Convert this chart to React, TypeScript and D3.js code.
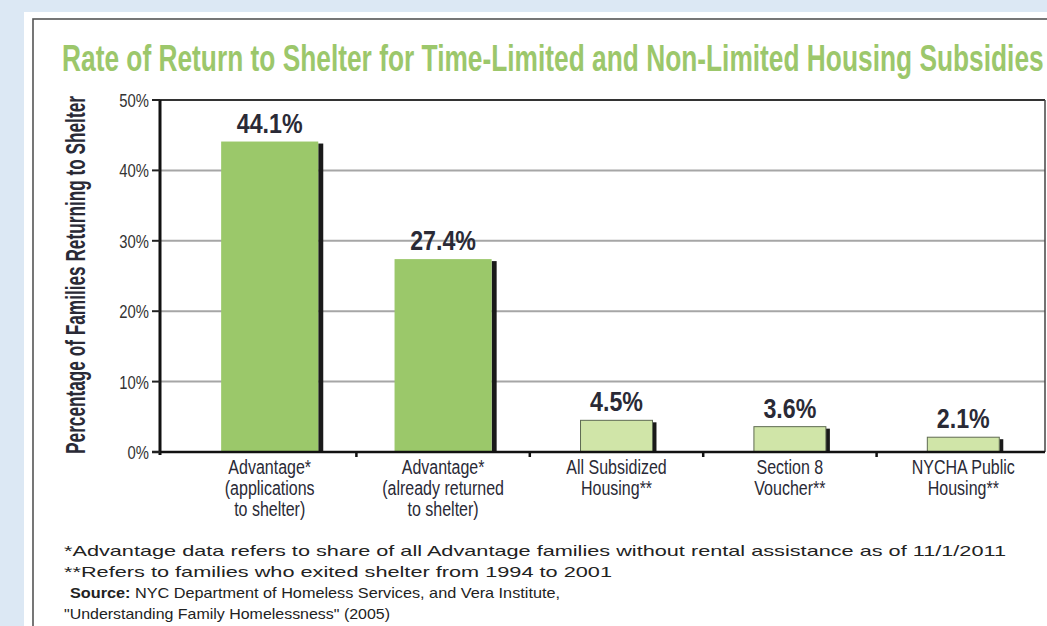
import { useLayoutEffect, useRef, useState } from 'react';
import * as d3 from 'd3';

const title = 'Rate of Return to Shelter for Time-Limited and Non-Limited Housing Subsidies';
const yTitle = 'Percentage of Families Returning to Shelter';

const categories = ['adv-app', 'adv-ret', 'all-sub', 'sec8', 'nycha'];
const categoryLabels = [
  ['Advantage*', '(applications', 'to shelter)'],
  ['Advantage*', '(already returned', 'to shelter)'],
  ['All Subsidized', 'Housing**'],
  ['Section 8', 'Voucher**'],
  ['NYCHA Public', 'Housing**'],
];
const subsidyKind = ['time-limited', 'time-limited', 'non-limited', 'non-limited', 'non-limited'];
const returnRates = [44.1, 27.4, 4.5, 3.6, 2.1];
const yTicks = [0, 10, 20, 30, 40, 50];

const footnotes = [
  '*Advantage data refers to share of all Advantage families without rental assistance as of 11/1/2011',
  '**Refers to families who exited shelter from 1994 to 2001',
];
const sourceLabel = 'Source:';
const sourceText = ' NYC Department of Homeless Services, and Vera Institute,';
const sourceText2 = '"Understanding Family Homelessness" (2005)';

const W = 1047;
const H = 626;
const SANS = '"Liberation Sans", Arial, sans-serif';
const INK = '#2a2a36';

// condensed look: no narrow face installed, so squeeze a regular one
function Narrow({
  x,
  y,
  sx,
  children,
  anchor = 'start',
  size,
  weight = 'normal',
  fill = INK,
}: {
  x: number;
  y: number;
  sx: number;
  children: React.ReactNode;
  anchor?: string;
  size: number;
  weight?: string;
  fill?: string;
}) {
  return (
    <text
      transform={`translate(${x},${y}) scale(${sx},1)`}
      textAnchor={anchor}
      fontFamily={SANS}
      fontSize={size}
      fontWeight={weight}
      fill={fill}
    >
      {children}
    </text>
  );
}

/** Squeezes a text to a given width (measured after mount). */
function FitText({
  width,
  place,
  anchor = 'start',
  size,
  weight = 'normal',
  fill = INK,
  children,
}: {
  width: number;
  place: string;
  anchor?: string;
  size: number;
  weight?: string;
  fill?: string;
  children: React.ReactNode;
}) {
  const ref = useRef<SVGTextElement>(null);
  const [sx, setSx] = useState(1);
  useLayoutEffect(() => {
    if (!ref.current) return;
    const len = ref.current.getComputedTextLength();
    if (len > 0) setSx(width / len);
  }, [width, children]);
  return (
    <text
      ref={ref}
      transform={`${place} scale(${sx},1)`}
      textAnchor={anchor}
      fontFamily={SANS}
      fontSize={size}
      fontWeight={weight}
      fill={fill}
    >
      {children}
    </text>
  );
}

export default function App() {
  const plot = { left: 160, right: 1045, top: 100, bottom: 452 };
  const y = d3.scaleLinear().domain([0, 50]).range([plot.bottom, plot.top]);
  const x = d3.scaleBand<string>().domain(categories).range([183, 1050]).padding(0);
  const bw = x.bandwidth();

  return (
    <svg
      width={W}
      height={H}
      viewBox={`0 0 ${W} ${H}`}
      style={{ position: 'absolute', left: 0, top: 0 }}
    >
      <rect x={0} y={0} width={W} height={H} fill="#dce8f4" />
      <rect x={24} y={12} width={W} height={H} fill="#ffffff" />
      <rect x={33} y={19} width={W + 10} height={H} fill="none" stroke="#555" strokeWidth={1.6} />

      <FitText width={982} place="translate(62,71)" size={37} weight="bold" fill="#9cc76b">
        {title}
      </FitText>

      {/* gridlines */}
      {yTicks.slice(1, -1).map((t) => (
        <line
          key={t}
          x1={plot.left}
          x2={plot.right}
          y1={y(t)}
          y2={y(t)}
          stroke="#a6a6a6"
          strokeWidth={2}
        />
      ))}

      {/* plot frame */}
      <line x1={plot.left} x2={plot.right} y1={plot.top} y2={plot.top} stroke="#333" strokeWidth={2} />
      <line x1={plot.right} x2={plot.right} y1={plot.top} y2={plot.bottom} stroke="#444" strokeWidth={1.5} />

      {/* bars */}
      {categories.map((c, i) => {
        const strong = subsidyKind[i] === 'time-limited';
        const w = bw * (strong ? 0.56 : 0.415);
        const cx = (x(c) ?? 0) + bw / 2;
        const top = y(returnRates[i]);
        const h = y(0) - top;
        return (
          <g key={c}>
            <rect
              x={cx + w / 2}
              y={top + 2}
              width={strong ? 5 : 4}
              height={h - 2}
              fill="#1a1a1a"
            />
            <rect
              x={cx - w / 2}
              y={top}
              width={w}
              height={h}
              fill={strong ? '#9bc86a' : '#d0e5a8'}
              stroke={strong ? 'none' : '#5f6b52'}
              strokeWidth={1}
            />
            <Narrow x={cx} y={top - 9} sx={0.86} anchor="middle" size={27} weight="bold">
              {returnRates[i].toFixed(1)}%
            </Narrow>
            {categoryLabels[i].map((line, j) => (
              <Narrow key={j} x={cx} y={474 + j * 21} sx={0.8} anchor="middle" size={20}>
                {line}
              </Narrow>
            ))}
          </g>
        );
      })}

      {/* axes */}
      <line x1={152} x2={plot.right} y1={plot.bottom} y2={plot.bottom} stroke="#111" strokeWidth={2.5} />
      <line x1={plot.left} x2={plot.left} y1={plot.top} y2={plot.bottom + 3} stroke="#111" strokeWidth={3} />
      {yTicks.map((t) => (
        <g key={t}>
          <line x1={152} x2={plot.left} y1={y(t)} y2={y(t)} stroke="#222" strokeWidth={2} />
          <Narrow x={149} y={y(t) + 7} sx={0.78} anchor="end" size={19} fill="#333">
            {t}%
          </Narrow>
        </g>
      ))}
      {categories.slice(1).map((c) => (
        <line
          key={c}
          x1={x(c) ?? 0}
          x2={x(c) ?? 0}
          y1={plot.bottom}
          y2={plot.bottom + 5}
          stroke="#111"
          strokeWidth={2.5}
        />
      ))}

      <FitText
        width={358}
        place="translate(85,275) rotate(-90)"
        anchor="middle"
        size={28}
        weight="bold"
      >
        {yTitle}
      </FitText>

      {/* footnotes */}
      <text x={64} y={556} fontFamily={SANS} fontSize={14.5} fill="#222" textLength={942} lengthAdjust="spacingAndGlyphs">
        {footnotes[0]}
      </text>
      <text x={64} y={577} fontFamily={SANS} fontSize={14.5} fill="#222" textLength={548} lengthAdjust="spacingAndGlyphs">
        {footnotes[1]}
      </text>
      <text x={70} y={598} fontFamily={SANS} fontSize={14.5} fill="#222" textLength={490} lengthAdjust="spacingAndGlyphs">
        <tspan fontWeight="bold">{sourceLabel}</tspan>
        {sourceText}
      </text>
      <text x={64} y={619} fontFamily={SANS} fontSize={14.5} fill="#222" textLength={326} lengthAdjust="spacingAndGlyphs">
        {sourceText2}
      </text>
    </svg>
  );
}
